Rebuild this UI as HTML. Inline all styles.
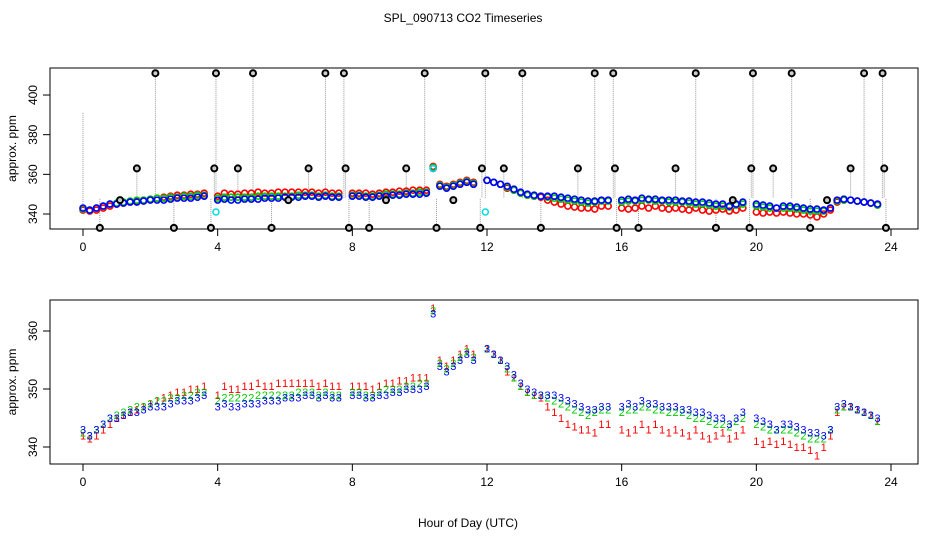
<!DOCTYPE html>
<html><head><meta charset="utf-8"><style>
body{margin:0;background:#fff;}
svg{display:block;font-family:"Liberation Sans",sans-serif;}
</style></head><body>
<svg id="chart" width="936" height="540" xmlns="http://www.w3.org/2000/svg">
<text x="463" y="22" font-size="12" text-anchor="middle">SPL_090713  CO2 Timeseries</text>
<text x="468" y="527" font-size="12" text-anchor="middle">Hour of Day (UTC)</text>
</svg>
<script>
const xTicks=[0,4,8,12,16,20,24];
const topYTicks=[340,360,380,400];
const botYTicks=[340,350,360];
const hourStep=0.2;
const red=[342,341.5,342,343,344, 345,345.5,346,346.5,347, 347.5,348,348.5,349,349.5, 349.5,350,350,350.5,null,
349,350.5,350,350,350.5, 350.5,351,350.5,350.5,351, 351,351,351,351,351, 350.5,351,350.5,350.5,null,
350.5,350.5,350.5,350,350.5, 351,351,351.5,351.5,352, 352,352,364,355,354, 355,356,357,356,null,
357,356,355,353,352, 350.5,349.5,349,348.5,347, 346,345,344,343.5,343, 343,342.5,344,344,null,
343,342.5,343,344,343, 344,343,342.5,343,342.5, 342,343,342,341.5,342, 342.5,341.5,342,343,null,
341,340.5,341,340.5,341, 340.5,340,340,339.5,338.5, 340,342,346,347,347, 346.5,346,345.5,344.5,null];
const green=[342.5,342,343,344,345, 345.5,346,346.5,347,347, 347.5,348,348,348.5,348.5, 349,349,349.5,349.5,null,
348,348.5,348.5,348.5,348.5, 348.5,349,349,349,349, 349,349,349.5,349.5,349.5, 349,349.5,349,349,null,
349.5,349.5,349,349,349.5, 350,350,350,350.5,350.5, 351,351,363.5,354.5,353.5, 354.5,355.5,356.5,355.5,null,
357,356,355,353.5,352, 350.5,349.5,349,349,348.5, 348,347.5,347,346.5,346, 345.5,346,346.5,346.5,null,
346,346.5,346.5,347,347, 346.5,346.5,346,346,346, 345.5,345,345,344.5,344, 344,343.5,344.5,345,null,
344,343.5,343,343,343, 343,342.5,342,341.5,341.5, 341.5,343,346.5,347,347, 346.5,346,345.5,344.5,null];
const blue=[343,342,343,344,345, 345,345.5,346,346,346.5, 347,347,347,347.5,348, 348,348,348.5,349,null,
347,347.5,347,347,347.5, 347.5,347.5,348,348,348, 348.5,348.5,348.5,349,349, 348.5,349,348.5,348.5,null,
349,349,348.5,348.5,349, 349,349.5,349.5,350,350, 350,350.5,363,354,353, 354,355,356,355,null,
357,356,355,354,352.5, 351,350,349.5,349,349, 349,348.5,348,347.5,347, 346.5,346.5,347,347,null,
347,347.5,347,348,347.5, 347.5,347,347,347,346.5, 346.5,346,346,345.5,345, 345,344,345,346,null,
345,344.5,344,343,344, 344,343.5,343,342.5,342.5, 342,343,347,347.5,347, 346.5,346,345.5,345,null];
const refHours=[0.5,1.1,1.6,2.15,2.7,3.8,3.9,3.95,4.6,5.05,5.6,6.1,6.7,7.2,7.75,7.8,7.9,8.5,9.0,9.6,10.15,10.5,11.0,11.8,11.85,11.95,12.5,13.05,13.6,14.7,15.2,15.75,15.8,15.85,16.5,17.6,18.2,18.8,19.3,19.8,19.85,19.9,20.5,21.05,21.6,22.1,22.8,23.2,23.75,23.8,23.85];
const refValues=[333,347,363,411,333,333,363,411,363,411,333,347,363,411,411,363,333,333,347,363,411,333,347,333,363,411,363,411,333,363,411,411,363,333,333,363,411,333,347,333,363,411,363,411,333,347,363,411,411,363,333];
const cyanHours=[3.95,11.95,10.4];
const cyanValues=[341,341,363];

const NS="http://www.w3.org/2000/svg";
const svg=document.getElementById('chart');
function mk(tag,attrs,parent){const e=document.createElementNS(NS,tag);for(const k in attrs)e.setAttribute(k,attrs[k]);(parent||svg).appendChild(e);return e;}
const X0=83,X1=891;
const xs=h=>X0+(X1-X0)*h/24;
const panels=[
 {top:68,bot:229,y0:214,ppu:1.983,ticks:topYTicks,name:'top'},
 {top:300,bot:464,y0:447,ppu:5.8,ticks:botYTicks,name:'bottom'}];
panels.forEach(p=>{
 const ys=v=>p.y0-(v-340)*p.ppu; p.ys=ys;
 const g=mk('g',{});
 
 
 const box=mk('rect',{x:50,y:p.top,width:868,height:p.bot-p.top,fill:'none',stroke:'#000','stroke-width':1},g);
 
 
 xTicks.forEach(t=>{
  const l=mk('line',{x1:xs(t),x2:xs(t),y1:p.bot,y2:p.bot+7,stroke:'#000'},g);
  
  
  const tx=mk('text',{x:xs(t),y:p.bot+22,'font-size':12,'text-anchor':'middle'},g);tx.textContent=t;
  
  
 });
 p.ticks.forEach(t=>{
  const l=mk('line',{x1:43,x2:50,y1:ys(t),y2:ys(t),stroke:'#000'},g);
  
  
  const tx=mk('text',{x:0,y:0,'font-size':12,'text-anchor':'middle',transform:`translate(37,${ys(t)}) rotate(-90)`},g);tx.textContent=t;
  
  
 });
 const yl=mk('text',{x:0,y:0,'font-size':12,'text-anchor':'middle',transform:`translate(16,${(p.top+p.bot)/2}) rotate(-90)`},g);
 yl.textContent='approx. ppm';
 
 
});
// top panel
const T=panels[0];
mk('line',{x1:xs(0),x2:xs(0),y1:T.ys(391),y2:T.ys(340),stroke:'#999','stroke-dasharray':'1,1'});
refHours.forEach((h,i)=>{
 const l=mk('line',{x1:xs(h),x2:xs(h),y1:T.ys(refValues[i]),y2:T.ys(348),stroke:'#999','stroke-dasharray':'1,1'});
 
 
});
[[red,'#f00','red'],[green,'#0c0','green'],[blue,'#00f','blue']].forEach(([arr,col,nm])=>{
 arr.forEach((v,i)=>{ if(v==null)return;
  const c=mk('circle',{cx:xs(i*hourStep),cy:T.ys(v),r:3,fill:'none',stroke:col,'stroke-width':1.6});
  
  
 });
});
refHours.forEach((h,i)=>{
 const c=mk('circle',{cx:xs(h),cy:T.ys(refValues[i]),r:3,fill:'#ccc',stroke:'#000','stroke-width':2});
 
 
});
cyanHours.forEach((h,i)=>{
 const c=mk('circle',{cx:xs(h),cy:T.ys(cyanValues[i]),r:3,fill:'none',stroke:'#0dd','stroke-width':1.5});
 
 
});
// bottom panel
const B=panels[1];
[[red,'#f00','1','red'],[green,'#0c0','2','green'],[blue,'#00f','3','blue']].forEach(([arr,col,ch,nm])=>{
 arr.forEach((v,i)=>{ if(v==null)return;
  const t=mk('text',{x:xs(i*hourStep),y:B.ys(v)+4,'font-size':11,'text-anchor':'middle',fill:col});
  t.textContent=ch;
  
  
 });
});
</script>
</body></html>
